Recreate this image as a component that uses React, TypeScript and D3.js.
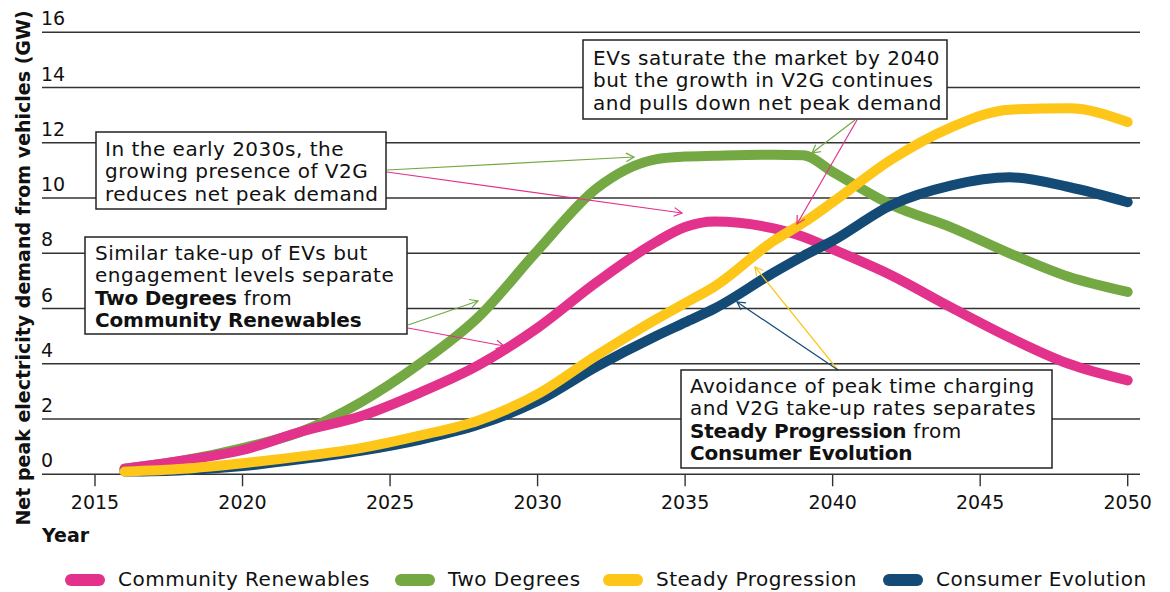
import * as d3 from "d3";
import React from "react";

// years shared by every series
const years = [2016, 2018, 2020, 2022, 2024, 2026, 2028, 2030, 2032, 2034, 2035, 2036, 2038, 2039, 2040, 2042, 2044, 2046, 2048, 2050];

const communityRenewables = [0.2, 0.5, 0.88, 1.55, 2.1, 2.95, 3.95, 5.3, 6.95, 8.4, 8.95, 9.15, 8.9, 8.6, 8.15, 7.2, 6.05, 4.95, 4.0, 3.4];
const twoDegrees = [0.2, 0.5, 0.95, 1.55, 2.6, 4.0, 5.7, 8.1, 10.35, 11.4, 11.5, 11.53, 11.57, 11.55, 10.95, 9.75, 8.95, 8.0, 7.15, 6.6];
const steadyProgression = [0.1, 0.2, 0.4, 0.65, 0.95, 1.4, 1.95, 2.9, 4.3, 5.6, 6.2, 6.8, 8.45, 9.1, 9.85, 11.4, 12.55, 13.2, 13.25, 12.75];
const consumerEvolution = [0.1, 0.15, 0.3, 0.55, 0.85, 1.25, 1.8, 2.65, 3.9, 5.0, 5.5, 6.0, 7.3, 7.9, 8.45, 9.75, 10.45, 10.75, 10.4, 9.85];

const xTicks = [2015, 2020, 2025, 2030, 2035, 2040, 2045, 2050];
const yTicks = [0, 2, 4, 6, 8, 10, 12, 14, 16];

const PINK = "#e2328b";
const GREEN = "#74a843";
const YELLOW = "#fdc619";
const BLUE = "#134a76";

// drawing order: later ones on top
const series = [
  {name: "Two Degrees", values: twoDegrees, color: GREEN},
  {name: "Community Renewables", values: communityRenewables, color: PINK},
  {name: "Consumer Evolution", values: consumerEvolution, color: BLUE},
  {name: "Steady Progression", values: steadyProgression, color: YELLOW},
];

const legendItems = [
  {name: "Community Renewables", color: PINK, x: 65},
  {name: "Two Degrees", color: GREEN, x: 395},
  {name: "Steady Progression", color: YELLOW, x: 603},
  {name: "Consumer Evolution", color: BLUE, x: 883},
];

const FONT = "'DejaVu Sans', sans-serif";
const FS = 20;
const LS = 0.5;

const x = d3.scaleLinear().domain([2015, 2050]).range([95, 1127.7]);
const y = d3.scaleLinear().domain([0, 16]).range([474.3, 32.3]);

const lineGen = d3.line<[number, number]>()
  .x(d => x(d[0]))
  .y(d => y(d[1]))
  .curve(d3.curveMonotoneX);

type Seg = {text: string; bold?: boolean};

function Note(props: {x: number; y: number; w: number; h: number; tx: number; ty: number; lines: Seg[][]}) {
  return (
    <g>
      <rect x={props.x} y={props.y} width={props.w} height={props.h} fill="white" stroke="#222" strokeWidth={1.5} />
      <text fontFamily={FONT} fontSize={FS} fill="#111">
        {props.lines.map((segs, i) => (
          <tspan key={i} x={props.tx} y={props.ty + i * 22.3}>
            {segs.map((s, j) => (
              <tspan key={j} fontWeight={s.bold ? 700 : 400} letterSpacing={s.bold ? -0.2 : LS}>{s.text}</tspan>
            ))}
          </tspan>
        ))}
      </text>
    </g>
  );
}

function Arrow(props: {x1: number; y1: number; x2: number; y2: number; color: string}) {
  const a = Math.atan2(props.y2 - props.y1, props.x2 - props.x1);
  const L = 9, s = 0.5;
  const p1 = [props.x2 - L * Math.cos(a - s), props.y2 - L * Math.sin(a - s)];
  const p2 = [props.x2 - L * Math.cos(a + s), props.y2 - L * Math.sin(a + s)];
  return (
    <g stroke={props.color} strokeWidth={1.2} fill="none">
      <line x1={props.x1} y1={props.y1} x2={props.x2} y2={props.y2} />
      <path d={`M${p1[0]},${p1[1]}L${props.x2},${props.y2}L${p2[0]},${p2[1]}`} />
    </g>
  );
}

export default function App() {
  return (
    <svg width={1170} height={592} style={{position: "absolute", left: 0, top: 0}}>
      <rect width={1170} height={592} fill="white" />
      {/* grid */}
      {yTicks.map(t => (
        <g key={t}>
          <line x1={42} x2={1140} y1={y(t)} y2={y(t)} stroke="#333" strokeWidth={1.4} />
          <text x={41} y={y(t) - 7} fontFamily={FONT} fontSize={19} fill="#111">{t}</text>
        </g>
      ))}
      {xTicks.map(t => (
        <g key={t}>
          <line x1={x(t)} x2={x(t)} y1={y(0)} y2={y(0) + 12} stroke="#333" strokeWidth={1.4} />
          <text x={x(t)} y={509} textAnchor="middle" fontFamily={FONT} fontSize={19} fill="#111">{t}</text>
        </g>
      ))}
      <text transform="translate(30,268) rotate(-90)" textAnchor="middle" fontFamily={FONT} fontSize={19} fontWeight={700} fill="#111">
        Net peak electricity demand from vehicles (GW)
      </text>
      <text x={42} y={542} fontFamily={FONT} fontSize={19} fontWeight={700} fill="#111">Year</text>

      {/* series */}
      {series.map(s => (
        <path key={s.name}
              d={lineGen(years.map((yr, i) => [yr, s.values[i]] as [number, number])) || ""}
              fill="none" stroke={s.color} strokeWidth={10} strokeLinecap="round" strokeLinejoin="round" />
      ))}

      {/* annotations */}
      <Note x={583} y={40} w={364} h={79} tx={593} ty={65}
            lines={[[{text: "EVs saturate the market by 2040"}], [{text: "but the growth in V2G continues"}], [{text: "and pulls down net peak demand"}]]} />
      <Arrow x1={855} y1={120} x2={812} y2={153} color={GREEN} />
      <Arrow x1={857} y1={120} x2={797} y2={224} color={PINK} />

      <Note x={96} y={132} w={290} h={77} tx={105} ty={156}
            lines={[[{text: "In the early 2030s, the"}], [{text: "growing presence of V2G"}], [{text: "reduces net peak demand"}]]} />
      <Arrow x1={387} y1={170} x2={634} y2={157} color={GREEN} />
      <Arrow x1={387} y1={172} x2={682} y2={213} color={PINK} />

      <Note x={85} y={237} w={322} h={97} tx={95} ty={260}
            lines={[[{text: "Similar take-up of EVs but"}], [{text: "engagement levels separate"}], [{text: "Two Degrees", bold: true}, {text: " from"}], [{text: "Community Renewables", bold: true}]]} />
      <Arrow x1={408} y1={325} x2={478} y2={301} color={GREEN} />
      <Arrow x1={408} y1={328} x2={504} y2={346} color={PINK} />

      <Arrow x1={838} y1={370} x2={755} y2={267} color={YELLOW} />
      <Arrow x1={838} y1={370} x2={737} y2={302} color={BLUE} />
      <Note x={681} y={370} w={371} h={98} tx={690} ty={393}
            lines={[[{text: "Avoidance of peak time charging"}], [{text: "and V2G take-up rates separates"}], [{text: "Steady Progression", bold: true}, {text: " from"}], [{text: "Consumer Evolution", bold: true}]]} />

      {/* legend */}
      {legendItems.map(l => (
        <g key={l.name}>
          <line x1={l.x + 6} x2={l.x + 34} y1={580} y2={580} stroke={l.color} strokeWidth={12} strokeLinecap="round" />
          <text x={l.x + 53} y={586} fontFamily={FONT} fontSize={FS} letterSpacing={LS} fill="#111">{l.name}</text>
        </g>
      ))}
    </svg>
  );
}
